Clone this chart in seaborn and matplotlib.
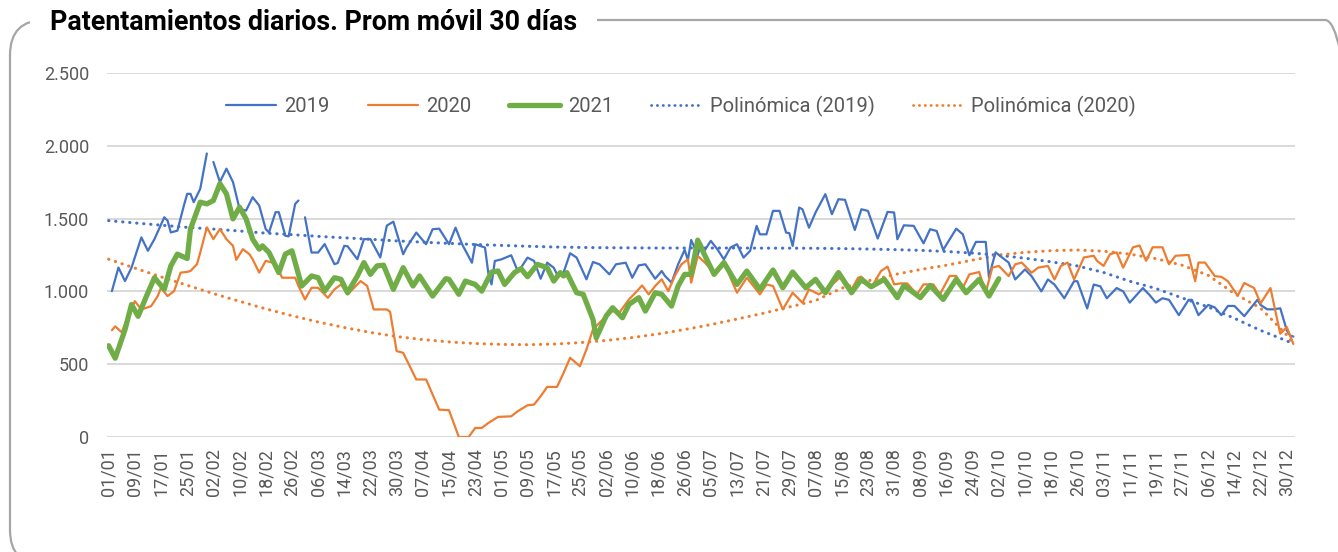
import numpy as np
import pandas as pd
import matplotlib
matplotlib.use("Agg")
import matplotlib.pyplot as plt
from matplotlib.patches import FancyBboxPatch
from matplotlib.transforms import IdentityTransform
from matplotlib.lines import Line2D
from matplotlib.ticker import FuncFormatter
import seaborn as sns

# etiquetas del eje (una cada 8 dias)
etiquetas = ["01/01", "09/01", "17/01", "25/01", "02/02", "10/02", "18/02", "26/02",
             "06/03", "14/03", "22/03", "30/03", "07/04", "15/04", "23/04", "01/05",
             "09/05", "17/05", "25/05", "02/06", "10/06", "18/06", "26/06", "05/07",
             "13/07", "21/07", "29/07", "07/08", "15/08", "23/08", "31/08", "08/09",
             "16/09", "24/09", "02/10", "10/10", "18/10", "26/10", "03/11", "11/11",
             "19/11", "27/11", "06/12", "14/12", "22/12", "30/12"]
n_dias = 363

# 2019 (NaN = dias sin dato)
dias_2019 = [1, 3, 5, 7, 10, 12, 14, 17, 18, 19, 21, 23, 24, 25, 26, 28, 30, 31, 32, 34,
             36, 38, 40, 42, 44, 46, 48, 49, 51, 52, 54, 55, 57, 58, 59, 60, 62, 64, 66, 69,
             70, 72, 73, 76, 78, 80, 83, 85, 87, 90, 91, 94, 97, 99, 101, 104, 106, 108, 111, 112,
             115, 116, 117, 118, 120, 123, 125, 126, 128, 130, 132, 134, 136, 137, 139, 141, 143, 146, 148, 150,
             153, 155, 158, 160, 162, 164, 167, 169, 170, 172, 174, 176, 177, 178, 180, 181, 182, 184, 186, 188,
             190, 192, 194, 196, 198, 199, 201, 203, 205, 207, 208, 209, 211, 212, 214, 216, 219, 221, 223, 225,
             228, 230, 232, 235, 238, 240, 241, 243, 246, 249, 251, 253, 255, 259, 261, 263, 265, 268, 269, 270,
             271, 273, 275, 277, 280, 282, 285, 287, 289, 292, 295, 296, 299, 301, 303, 305, 308, 310, 312, 316,
             318, 320, 322, 324, 327, 330, 331, 333, 336, 338, 340, 342, 344, 347, 351, 352, 354, 356, 358, 360,
             361, 362]
val_2019 = [1002, 1164, 1071, 1164, 1371, 1279, 1359, 1509, 1486, 1405, 1417, 1590, 1670, 1670, 1613, 1705, 1947, np.nan, 1889, 1751,
            1843, 1751, 1567, 1555, 1647, 1590, 1428, 1405, 1544, 1544, 1382, 1378, 1601, 1624, np.nan, 1509, 1267, 1267, 1325, 1187,
            1195, 1313, 1310, 1221, 1359, 1359, 1233, 1452, 1479, 1255, 1301, 1404, 1324, 1427, 1431, 1324, 1438, 1324, 1197, 1324,
            1301, 1129, 1048, 1209, 1220, 1248, 1140, 1163, 1232, 1209, 1087, 1197, 1163, 1117, 1129, 1262, 1232, 1083, 1202, 1186,
            1117, 1186, 1197, 1094, 1179, 1186, 1087, 1140, 1106, 1060, 1186, 1285, 1216, 1353, 1250, 1330, 1278, 1347, 1289, 1220,
            1301, 1324, 1232, 1278, 1450, 1392, 1392, 1553, 1553, 1404, 1400, 1312, 1576, 1564, 1438, 1542, 1668, 1530, 1633, 1629,
            1422, 1564, 1553, 1363, 1546, 1542, 1358, 1454, 1450, 1330, 1427, 1415, 1285, 1431, 1392, 1248, 1340, 1340, 1094, 1186,
            1268, 1233, 1198, 1082, 1151, 1105, 1000, 1082, 1047, 953, 1070, 1070, 883, 1047, 1035, 953, 1023, 1000, 923, 1023,
            977, 923, 953, 942, 837, 942, 942, 837, 907, 890, 837, 900, 900, 830, 942, 907, 877, 877, 884, 732,
            697, 690]

# 2020
dias_2020 = [1, 2, 4, 6, 8, 10, 13, 15, 16, 18, 20, 22, 24, 25, 27, 28, 30, 32, 34, 36,
             38, 39, 41, 43, 44, 46, 48, 50, 52, 53, 55, 57, 58, 60, 62, 64, 67, 69, 71, 73,
             76, 77, 79, 81, 83, 85, 86, 88, 90, 94, 97, 101, 104, 107, 110, 112, 114, 116, 119, 123,
             125, 128, 130, 132, 134, 137, 139, 141, 144, 146, 148, 151, 154, 156, 159, 161, 163, 165, 167, 169,
             171, 173, 175, 177, 178, 180, 182, 185, 188, 190, 192, 195, 199, 201, 203, 206, 209, 212, 214, 217,
             220, 224, 227, 229, 230, 233, 236, 238, 240, 242, 244, 247, 249, 252, 254, 257, 259, 261, 263, 266,
             268, 270, 272, 275, 277, 279, 282, 284, 287, 289, 291, 293, 295, 298, 301, 302, 304, 306, 308, 310,
             313, 315, 317, 319, 322, 324, 326, 330, 332, 333, 335, 338, 340, 342, 345, 347, 350, 352, 355, 358,
             360, 362]
val_2020 = [733, 760, 719, 830, 933, 876, 899, 968, 1025, 968, 1002, 1129, 1134, 1140, 1187, 1267, 1440, 1359, 1428, 1359,
            1313, 1217, 1290, 1256, 1221, 1129, 1210, 1198, 1140, 1094, 1094, 1094, 1037, 945, 1025, 1025, 956, 1014, 1048, 979,
            1048, 1071, 1037, 876, 876, 876, 860, 590, 578, 395, 395, 188, 184, 0, 0, 62, 62, 96, 138, 142,
            177, 218, 223, 280, 344, 344, 440, 544, 486, 601, 739, 807, 865, 853, 945, 991, 1041, 980, 1037, 1083,
            1002, 1106, 1186, 1220, 1060, 1243, 1202, 1129, 1209, 1094, 991, 1094, 980, 1048, 1037, 876, 991, 922, 1014, 980,
            1025, 1106, 1014, 1094, 1101, 1025, 1140, 1170, 1048, 1055, 1055, 980, 1048, 1048, 980, 1106, 1106, 1025, 1117, 1133,
            991, 1163, 1175, 1105, 1186, 1198, 1128, 1163, 1175, 1082, 1175, 1198, 1082, 1233, 1245, 1210, 1175, 1256, 1268, 1163,
            1303, 1315, 1210, 1303, 1303, 1186, 1245, 1250, 1070, 1198, 1198, 1105, 1100, 1070, 970, 1058, 1023, 918, 1023, 709,
            755, 639]

# 2021
dias_2021 = [0, 2, 5, 7, 9, 12, 14, 17, 19, 21, 24, 25, 28, 30, 32, 34, 36, 38, 40, 42,
             44, 46, 47, 49, 52, 54, 56, 59, 62, 64, 66, 69, 71, 73, 76, 78, 80, 82, 84, 87,
             90, 93, 95, 99, 103, 104, 107, 109, 112, 114, 117, 119, 121, 124, 126, 128, 131, 134, 136, 138,
             139, 140, 143, 145, 148, 149, 152, 154, 157, 159, 162, 164, 167, 169, 172, 174, 176, 178, 180, 182,
             185, 188, 192, 195, 199, 203, 206, 209, 213, 216, 219, 223, 227, 230, 233, 237, 241, 243, 248, 251,
             255, 259, 262, 266, 269, 272]
val_2021 = [627, 541, 737, 910, 829, 991, 1094, 1014, 1175, 1256, 1226, 1428, 1613, 1601, 1624, 1740, 1670, 1498, 1578, 1498,
            1359, 1290, 1313, 1267, 1129, 1256, 1279, 1037, 1106, 1094, 1002, 1094, 1083, 991, 1106, 1198, 1117, 1175, 1180, 1014,
            1163, 1037, 1106, 968, 1087, 1083, 980, 1071, 1048, 1002, 1133, 1140, 1048, 1129, 1156, 1101, 1186, 1163, 1071, 1129,
            1106, 1129, 991, 980, 807, 681, 830, 888, 819, 911, 957, 865, 991, 980, 899, 1037, 1117, 1117, 1352, 1255,
            1117, 1198, 1048, 1140, 1014, 1147, 1025, 1133, 1025, 1083, 991, 1129, 991, 1083, 1032, 1083, 957, 1041, 957, 1041,
            945, 1083, 991, 1083, 968, 1087]

# tendencias polinomicas
dias_tend = list(range(0, 361, 8)) + [362]
tend_2019 = [1486, 1470, 1455, 1440, 1428, 1415, 1400, 1390, 1378, 1368, 1358, 1347, 1338, 1330, 1322, 1316,
             1310, 1305, 1302, 1300, 1299, 1298, 1298, 1298, 1298, 1297, 1297, 1296, 1294, 1291, 1287, 1282,
             1274, 1263, 1248, 1228, 1203, 1175, 1130, 1070, 1020, 955, 893, 815, 732, 660, 640]
tend_2020 = [1221, 1160, 1100, 1042, 985, 932, 880, 833, 790, 752, 718, 690, 669, 653, 642, 636,
             634, 638, 648, 663, 683, 708, 738, 772, 810, 850, 893, 937, 1022, 1072, 1115, 1150,
             1180, 1215, 1250, 1268, 1280, 1284, 1276, 1256, 1225, 1180, 1110, 985, 885, 700, 640]

azul, naranja, verde = "#4472C4", "#ED7D31", "#70AD47"
gris_txt = "#595959"

sns.set_theme(style="white")
plt.rcParams['font.family'] = ['Roboto', 'DejaVu Sans']

fig = plt.figure(figsize=(13.38, 5.52), dpi=100)
ax = fig.add_axes([107 / 1338, 115 / 552, 1188 / 1338, 364 / 552])


def dibujar(dias, valores, **kw):
    df = pd.DataFrame({"dia": dias, "valor": valores})
    tramo = df["valor"].isna().cumsum()
    ok = df["valor"].notna()
    for _, seg in df[ok].groupby(tramo[ok]):
        sns.lineplot(data=seg, x="dia", y="valor", ax=ax, estimator=None, sort=False,
                     legend=False, **kw)


dibujar(dias_tend, tend_2019, color=azul, linewidth=2.2, linestyle=(0, (0.1, 2.2)),
        dash_capstyle="round")
dibujar(dias_tend, tend_2020, color=naranja, linewidth=2.2, linestyle=(0, (0.1, 2.2)),
        dash_capstyle="round")
dibujar(dias_2019, val_2019, color=azul, linewidth=1.6)
dibujar(dias_2020, val_2020, color=naranja, linewidth=1.6)
dibujar(dias_2021, val_2021, color=verde, linewidth=3.8)

ax.set_xlim(-0.5, n_dias - 0.5)
ax.set_ylim(0, 2500)
ax.set_yticks(range(0, 2501, 500))
ax.yaxis.set_major_formatter(FuncFormatter(lambda v, p: f"{v:,.0f}".replace(",", ".")))
ax.set_xticks(range(0, 361, 8))
ax.set_xticklabels(etiquetas, rotation=90)
ax.set_xlabel("")
ax.set_ylabel("")
ax.tick_params(axis="y", length=0, pad=13, labelsize=13, labelcolor=gris_txt)
ax.tick_params(axis="x", length=0, pad=8, labelsize=13, labelcolor=gris_txt)
ax.grid(False)
ax.yaxis.grid(True, color="#D9D9D9", linewidth=1.4)
ax.set_axisbelow(True)
for s in ax.spines.values():
    s.set_visible(False)

handles = [Line2D([], [], color=azul, lw=1.6),
           Line2D([], [], color=naranja, lw=1.6),
           Line2D([], [], color=verde, lw=3.8),
           Line2D([], [], color=azul, lw=2.0, linestyle=(0, (0.1, 2.0)), dash_capstyle="round"),
           Line2D([], [], color=naranja, lw=2.0, linestyle=(0, (0.1, 2.0)), dash_capstyle="round")]
labels = ["2019", "2020", "2021", "Polinómica (2019)", "Polinómica (2020)"]
ax.legend(handles, labels, loc="center", bbox_to_anchor=(0.483, 0.908), ncol=5,
          frameon=False, handlelength=2.5, columnspacing=1.9, handletextpad=0.4,
          fontsize=14.5, labelcolor=gris_txt)

# marco redondeado
marco = FancyBboxPatch((10, -13), 1350, 545, boxstyle="round,pad=0,rounding_size=35",
                       transform=IdentityTransform(), facecolor="none",
                       edgecolor="#A6A6A6", linewidth=1.6, zorder=0)
fig.add_artist(marco)
fig.text(50 / 1338, 1 - 23 / 552, "Patentamientos diarios. Prom móvil 30 días",
         ha="left", va="center", fontsize=19.3, fontweight="bold", color="black",
         bbox=dict(facecolor="white", edgecolor="none", pad=14))

fig.savefig("out.png", dpi=100)
